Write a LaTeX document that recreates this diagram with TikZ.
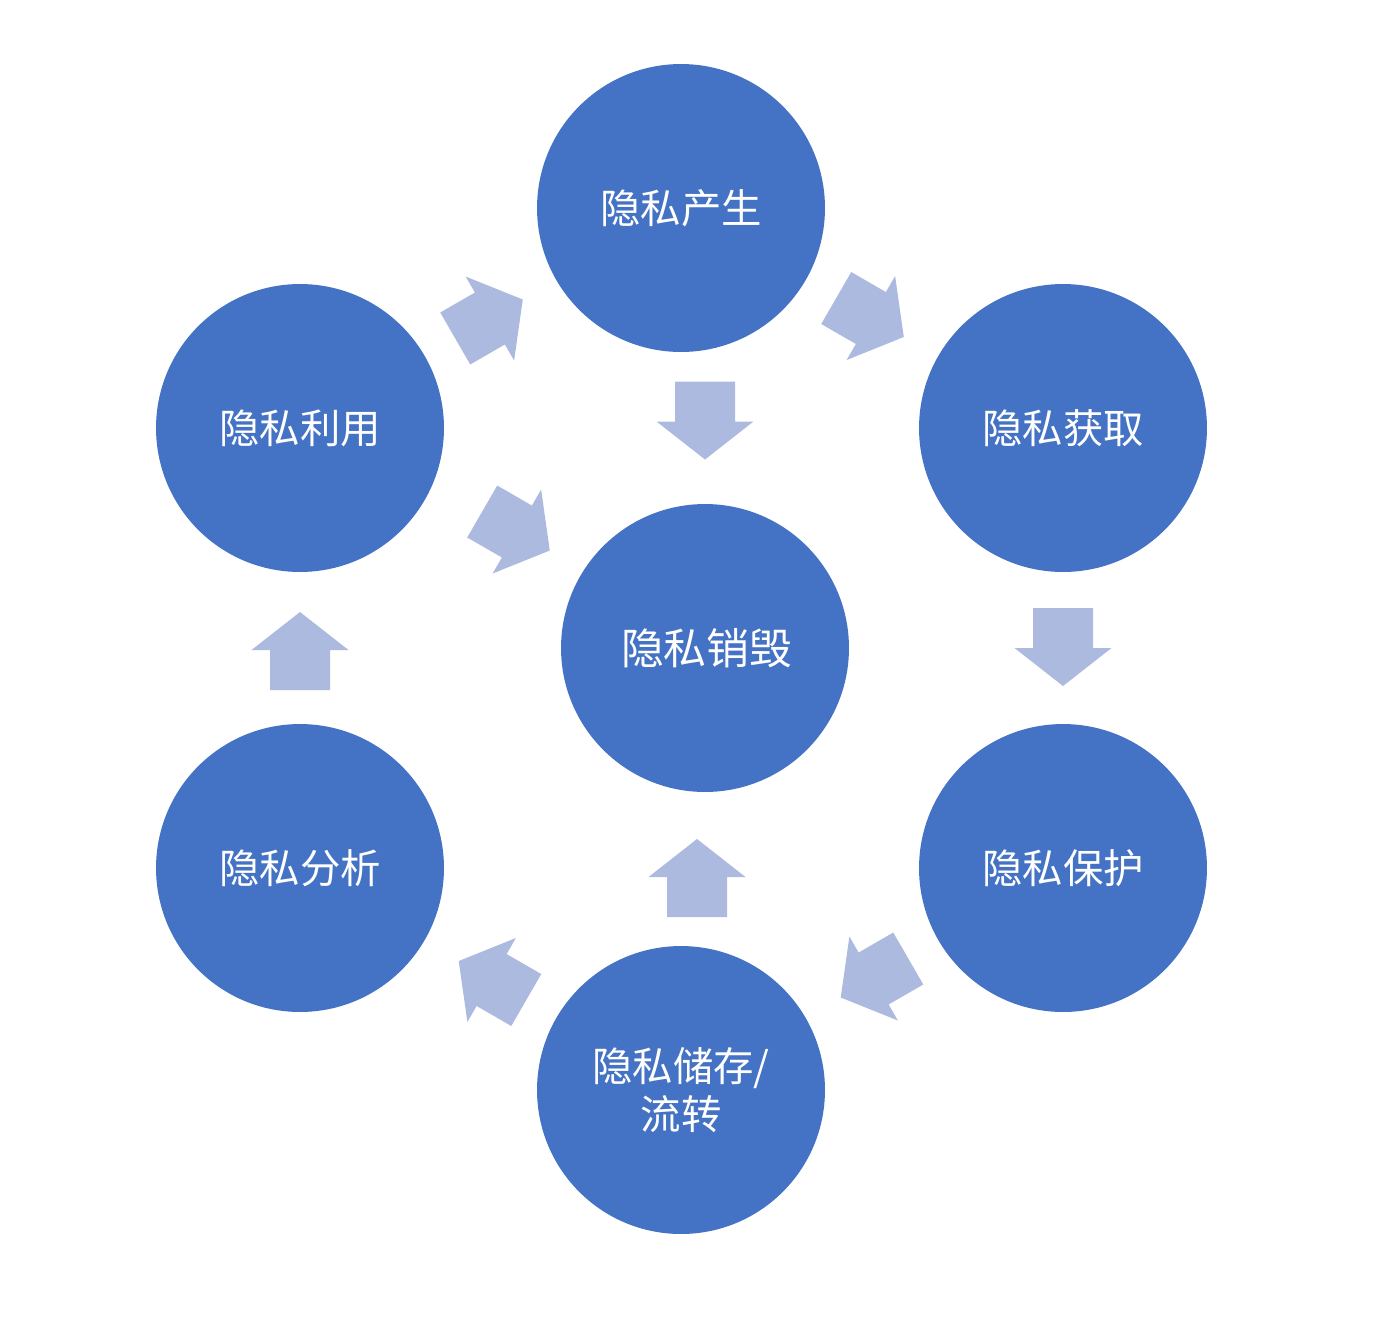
\documentclass[tikz,border=0pt]{standalone}
\usepackage{fontspec}
\setmainfont{Noto Sans CJK SC}
\definecolor{circblue}{HTML}{4472C4}
\definecolor{arrblue}{HTML}{ADBADF}
\tikzset{
  stage/.style={circle, fill=circblue, draw=none, minimum size=5.76cm, inner sep=0pt,
    text=white, font=\fontsize{23pt}{27pt}\selectfont, align=center},
  blockarrow/.pic={
    \fill[arrblue] (-39,-30) -- (1,-30) -- (1,-48.5) -- (39,0) -- (1,48.5) -- (1,30) -- (-39,30) -- cycle;
  }
}
\begin{document}
\begin{tikzpicture}[x=0.02cm,y=-0.02cm]
\useasboundingbox (0,0) rectangle (1399,1323);
\node[stage] (gen) at (681,208) {隐私产生};
\node[stage] (acq) at (1063,428) {隐私获取};
\node[stage] (pro) at (1063,868) {隐私保护};
\node[stage] (sto) at (681,1090) {隐私储存/\\流转};
\node[stage] (ana) at (300,868) {隐私分析};
\node[stage] (use) at (300,428) {隐私利用};
\node[stage, font=\fontsize{24.4pt}{28pt}\selectfont] (des) at (705,648) {\hspace*{2pt}隐私销毁};
% block arrows
\pic[rotate=30] at (489,319) {blockarrow};
\pic[rotate=-30] at (870,317.5) {blockarrow};
\pic[rotate=-90] at (705,420.5) {blockarrow};
\pic[rotate=-90] at (1063,647) {blockarrow};
\pic[rotate=210] at (874.5,978) {blockarrow};
\pic[rotate=90] at (697,878) {blockarrow};
\pic[rotate=150] at (492.5,980.5) {blockarrow};
\pic[rotate=90] at (300,651) {blockarrow};
\pic[rotate=-30] at (516,531) {blockarrow};
\end{tikzpicture}
\end{document}
